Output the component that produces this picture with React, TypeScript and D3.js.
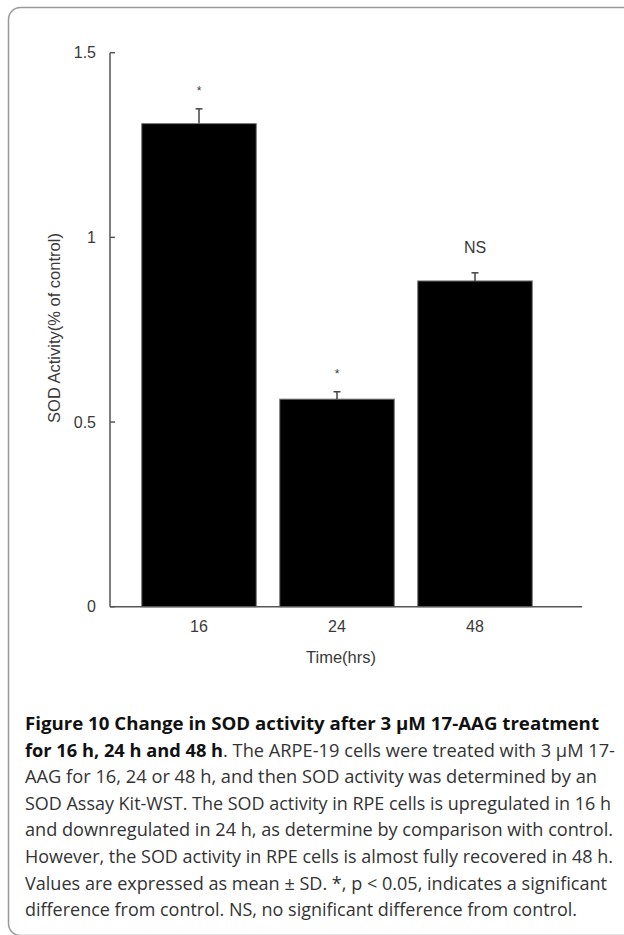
import React from 'react';
import { scaleBand, scaleLinear } from 'd3';

// chart values
const times = ['16', '24', '48'];
const means = [1.308, 0.562, 0.882];
const sds = [0.04, 0.02, 0.022];
const marks = ['*', '*', 'NS'];
const yTicks = [0, 0.5, 1, 1.5];
const yTickLabels = ['0', '0.5', '1', '1.5'];

const captionLines = [
  [{ t: 'Figure 10 Change in SOD activity after 3 μM 17-AAG treatment', b: true }],
  [
    { t: 'for 16 h, 24 h and 48 h', b: true },
    { t: '. The ARPE-19 cells were treated with 3 μM 17-', b: false },
  ],
  [{ t: 'AAG for 16, 24 or 48 h, and then SOD activity was determined by an', b: false }],
  [{ t: 'SOD Assay Kit-WST. The SOD activity in RPE cells is upregulated in 16 h', b: false }],
  [{ t: 'and downregulated in 24 h, as determine by comparison with control.', b: false }],
  [{ t: 'However, the SOD activity in RPE cells is almost fully recovered in 48 h.', b: false }],
  [{ t: 'Values are expressed as mean ± SD. *, p < 0.05, indicates a significant', b: false }],
  [{ t: 'difference from control. NS, no significant difference from control.', b: false }],
];
const captionWidths = [574, 590, 572, 586, 588, 588, 582, 552];

const W = 624;
const H = 935;
const axisX = 110;
const axisEnd = 582;

export default function App() {
  const y = scaleLinear().domain([0, 1.5]).range([606.7, 52.7]);
  const x = scaleBand<string>().domain(times).range([130, 544]).paddingInner(0.17).paddingOuter(0.085);
  const bw = x.bandwidth();
  const axisColor = '#555';
  const textColor = '#3a3a3a';
  const chartFont = 'Liberation Sans, Arial, sans-serif';

  return (
    <svg
      width={W}
      height={H}
      style={{ position: 'absolute', left: 0, top: 0, background: '#fff' }}
      fontFamily={chartFont}
    >
      <rect x={8.5} y={7.5} width={800} height={928} rx={12} ry={12} fill="#fff" stroke="#999" strokeWidth={1.5} />

      {/* bars */}
      {times.map((t, i) => (
        <rect key={t} x={x(t)} y={y(means[i])} width={bw} height={y(0) - y(means[i])} fill="#000" stroke="#777" strokeWidth={1} />
      ))}

      {/* error bars */}
      {times.map((t, i) => {
        const cx = (x(t) as number) + bw / 2;
        return (
          <g key={'e' + t} stroke="#444" strokeWidth={1.5}>
            <line x1={cx} x2={cx} y1={y(means[i])} y2={y(means[i] + sds[i])} />
            <line x1={cx - 3.5} x2={cx + 3.5} y1={y(means[i] + sds[i])} y2={y(means[i] + sds[i])} />
          </g>
        );
      })}

      {/* significance marks */}
      {times.map((t, i) => {
        const cx = (x(t) as number) + bw / 2;
        const isStar = marks[i] === '*';
        return (
          <text
            key={'m' + t}
            x={cx}
            y={y(means[i] + sds[i]) - (isStar ? 14 : 20)}
            textAnchor="middle"
            fontSize={isStar ? 12 : 16}
            fill={textColor}
          >
            {marks[i]}
          </text>
        );
      })}

      {/* y axis */}
      <line x1={axisX} x2={axisX} y1={y(1.5)} y2={y(0)} stroke={axisColor} strokeWidth={1.5} />
      {yTicks.map((v, i) => (
        <g key={'t' + v}>
          <line x1={axisX} x2={axisX + 5} y1={y(v)} y2={y(v)} stroke={axisColor} strokeWidth={1.5} />
          <text x={96} y={y(v)} dy="0.35em" textAnchor="end" fontSize={16} fill={textColor}>
            {yTickLabels[i]}
          </text>
        </g>
      ))}

      {/* x axis */}
      <line x1={axisX} x2={axisEnd} y1={y(0)} y2={y(0)} stroke={axisColor} strokeWidth={1.5} />
      {times.map((t) => (
        <text key={'x' + t} x={(x(t) as number) + bw / 2} y={632} textAnchor="middle" fontSize={16} fill={textColor}>
          {t}
        </text>
      ))}

      <text x={341} y={663} textAnchor="middle" fontSize={16.5} fill={textColor}>
        Time(hrs)
      </text>
      <text
        transform="translate(60,328) rotate(-90)"
        textAnchor="middle"
        fontSize={16.5}
        fill={textColor}
      >
        SOD Activity(% of control)
      </text>

      {/* caption */}
      <g fontFamily="'Open Sans', 'Noto Sans', sans-serif" fontSize={17.5}>
        {captionLines.map((line, i) => (
          <text
            key={'c' + i}
            x={25}
            y={730 + i * 26.6}
            textLength={captionWidths[i]}
            lengthAdjust="spacingAndGlyphs"
          >
            {line.map((seg, j) => (
              <tspan key={j} fontWeight={seg.b ? 'bold' : 'normal'} fill={seg.b ? '#111' : '#333'}>
                {seg.t}
              </tspan>
            ))}
          </text>
        ))}
      </g>
    </svg>
  );
}
